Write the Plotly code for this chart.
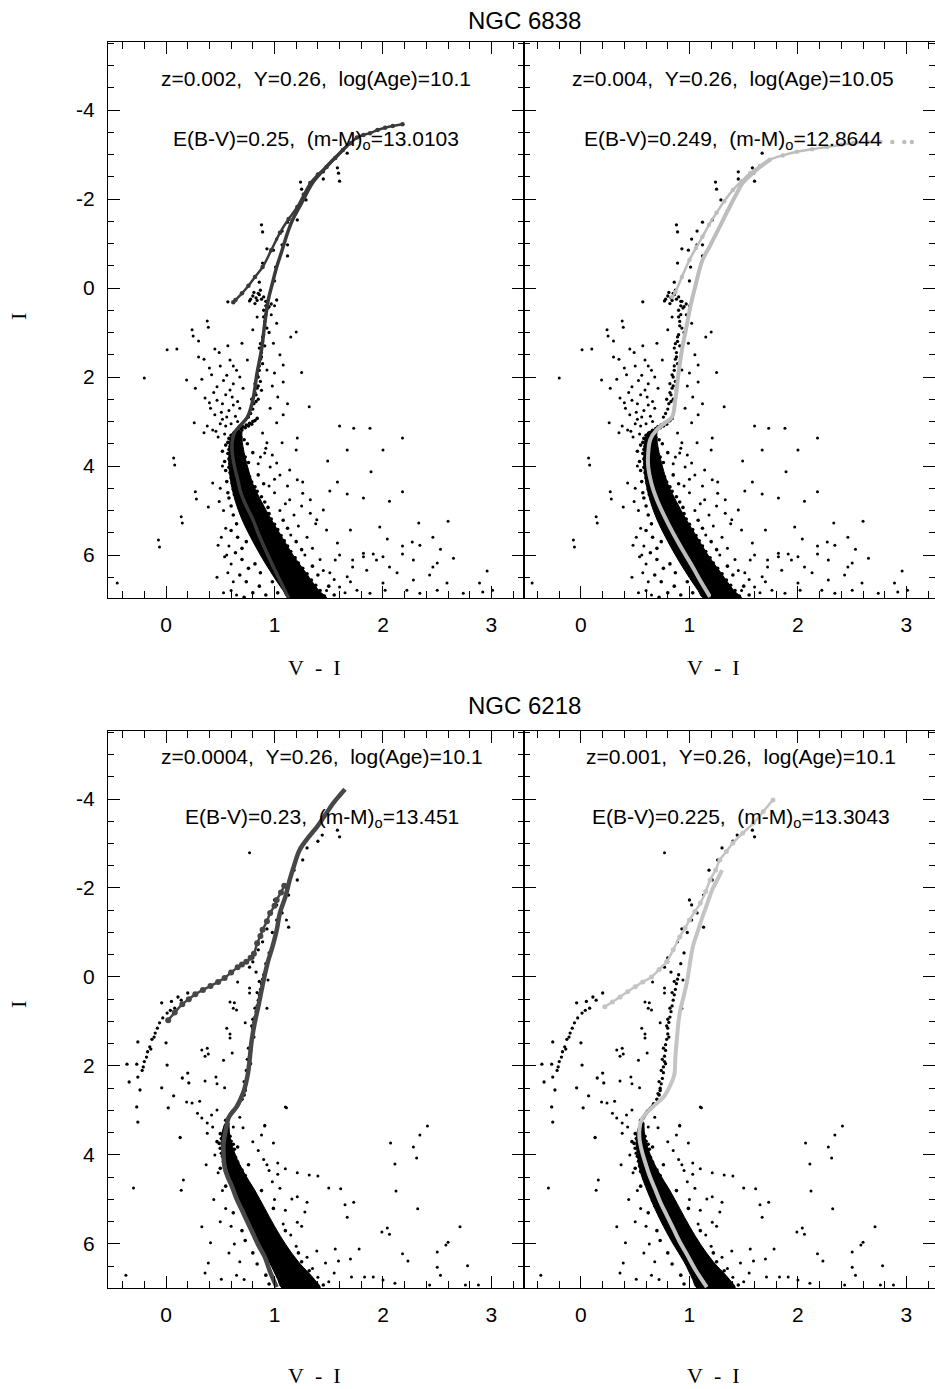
import plotly.graph_objects as go

# ---------------- DATA (x = V-I, y = I) ----------------
# NGC 6838 observed stars (shared by both upper panels)
ngc6838_band = """
0.84 2.93 0.80 3.00 0.77 3.04 0.74 3.08 0.71 3.12 0.69 3.16 0.66 3.20 0.64 3.24 0.62 3.28 0.79 3.06
0.73 3.14 0.67 3.22 0.82 2.98 0.70 3.19 0.76 3.10
0.60 3.31 0.63 3.34 0.66 3.30 0.58 3.38 0.61 3.42 0.65 3.40 0.69 3.36 0.57 3.47 0.60 3.51 0.64 3.49
0.68 3.45 0.72 3.41 0.59 3.56 0.62 3.58 0.66 3.54 0.55 3.53 0.75 3.50
0.58 3.63 0.61 3.66 0.64 3.62 0.67 3.68 0.70 3.64 0.57 3.72 0.60 3.75 0.63 3.71 0.66 3.78 0.69 3.74
0.73 3.80 0.58 3.84 0.61 3.88 0.64 3.83 0.67 3.91 0.71 3.86 0.59 3.95 0.62 3.98 0.65 3.94 0.68 3.99
0.76 3.92 0.54 3.90 0.80 3.70 0.52 3.67
0.58 4.03 0.61 4.06 0.64 4.02 0.67 4.09 0.70 4.05 0.74 4.12 0.59 4.15 0.62 4.18 0.65 4.14 0.68 4.21
0.72 4.17 0.77 4.24 0.60 4.27 0.63 4.30 0.66 4.26 0.69 4.33 0.73 4.29 0.79 4.36 0.61 4.39 0.64 4.42
0.67 4.38 0.71 4.45 0.75 4.41 0.82 4.47 0.56 4.35 0.85 4.20 0.55 4.10 0.90 4.40
0.62 4.52 0.65 4.55 0.68 4.51 0.71 4.58 0.75 4.54 0.79 4.61 0.84 4.57 0.63 4.64 0.67 4.67 0.70 4.63
0.74 4.70 0.78 4.66 0.83 4.73 0.88 4.69 0.65 4.76 0.69 4.79 0.72 4.75 0.76 4.82 0.81 4.78 0.86 4.85
0.91 4.81 0.67 4.88 0.71 4.91 0.75 4.87 0.79 4.94 0.84 4.90 0.89 4.97 0.94 4.93 0.58 4.72 0.60 4.90
0.57 4.60
0.70 5.02 0.74 5.05 0.78 5.01 0.82 5.08 0.86 5.04 0.90 5.11 0.95 5.07 0.72 5.14 0.76 5.17 0.80 5.13
0.84 5.20 0.88 5.16 0.92 5.23 0.97 5.19 0.74 5.26 0.79 5.29 0.83 5.25 0.87 5.32 0.91 5.28 0.95 5.35
1.00 5.31 0.77 5.38 0.82 5.41 0.86 5.37 0.90 5.44 0.94 5.40 0.98 5.47 1.03 5.43 0.62 5.10 0.65 5.30
0.60 5.45 1.08 5.22 1.12 5.40
0.80 5.51 0.85 5.54 0.89 5.50 0.93 5.57 0.97 5.53 1.01 5.60 1.06 5.56 0.83 5.63 0.88 5.66 0.92 5.62
0.96 5.69 1.00 5.65 1.04 5.72 1.09 5.68 0.86 5.75 0.91 5.78 0.95 5.74 0.99 5.81 1.03 5.77 1.07 5.84
1.12 5.80 0.89 5.87 0.94 5.90 0.98 5.86 1.02 5.93 1.06 5.89 1.10 5.96 1.15 5.92 0.66 5.60 0.70 5.85
0.64 5.95 0.74 5.70 1.20 5.70 1.25 5.88
0.93 6.01 0.98 6.04 1.02 6.00 1.06 6.07 1.10 6.03 1.14 6.10 1.19 6.06 0.96 6.13 1.01 6.16 1.05 6.12
1.09 6.19 1.13 6.15 1.17 6.22 1.22 6.18 1.00 6.25 1.05 6.28 1.09 6.24 1.13 6.31 1.17 6.27 1.21 6.34
1.26 6.30 1.04 6.37 1.09 6.40 1.13 6.36 1.17 6.43 1.21 6.39 1.25 6.46 1.30 6.42 0.70 6.10 0.76 6.30
0.68 6.45 0.82 6.20 0.87 6.40 1.35 6.25 1.40 6.45
1.08 6.51 1.13 6.54 1.17 6.50 1.21 6.57 1.25 6.53 1.29 6.60 1.34 6.56 1.12 6.63 1.17 6.66 1.21 6.62
1.25 6.69 1.29 6.65 1.33 6.72 1.38 6.68 1.16 6.75 1.21 6.78 1.25 6.74 1.29 6.81 1.33 6.77 1.37 6.84
1.42 6.80 1.20 6.87 1.25 6.90 1.29 6.86 1.33 6.93 1.37 6.89 1.41 6.96 1.46 6.92 0.74 6.60 0.80 6.85
0.72 6.95 0.86 6.70 0.92 6.90 0.98 6.60 1.50 6.70 1.55 6.90 1.03 6.85
"""
# dense core of the NGC 6838 main sequence (edges read at several magnitudes)
ngc6838_core_I = [3.22, 3.40, 3.70, 4.00, 4.40, 4.80, 5.20, 5.60, 6.00, 6.40, 6.80, 6.97]
ngc6838_core_left = [0.62, 0.59, 0.58, 0.58, 0.60, 0.64, 0.70, 0.78, 0.87, 0.97, 1.08, 1.13]
ngc6838_core_right = [0.70, 0.70, 0.72, 0.75, 0.80, 0.88, 0.97, 1.07, 1.17, 1.29, 1.41, 1.48]

ngc6838_giants = """
0.93 0.30 0.94 0.45 0.92 0.60 0.91 0.75 0.93 0.90 0.90 1.05 0.89 1.20 0.91 1.30 0.88 1.45 0.87 1.60
0.89 1.70 0.86 1.85 0.85 2.00 0.87 2.10 0.84 2.25 0.83 2.40 0.85 2.50 0.81 2.60 0.80 2.72 0.78 2.82
0.76 2.90 0.90 0.50 0.95 1.00 0.86 1.35 0.84 1.95 0.82 2.15 0.88 2.30 0.79 2.50
0.92 0.40 0.91 0.85 0.89 1.10 0.88 1.55 0.86 1.75 0.85 2.20 0.83 2.55 0.82 2.35 0.87 1.25 0.90 0.65
0.80 0.18 0.83 0.22 0.86 0.15 0.88 0.25 0.84 0.28 0.81 0.10 0.87 0.05 0.90 0.20 0.78 0.25 0.85 0.12
0.92 0.30 0.82 0.35 0.95 0.42 0.97 0.36
0.57 0.31 0.77 0.29 0.89 -1.26 0.93 -0.88 0.89 -0.56 0.99 -0.85 1.02 -1.10 1.00 -0.16 1.07 -1.28
1.12 -1.48 1.12 -0.97 1.21 -1.53 1.25 -2.22 1.29 -1.98 1.45 -2.61 1.45 -2.45 1.59 -2.58 1.60 -2.40
0.86 -0.13 1.01 -0.47 0.88 -1.42 1.24 -2.38 1.58 -2.70 1.07 -0.97 1.12 -0.72 1.02 0.27 1.67 -3.03
"""

ngc6838_field = """
-0.45 6.63 -0.07 5.66 -0.20 2.02 0.01 1.39 0.10 1.37 0.24 0.94 0.30 1.19 0.38 0.74 0.30 1.55 0.45 1.37
0.19 2.07 0.27 2.25 0.40 1.80 0.26 3.03 0.07 3.82 0.27 4.58 0.43 4.38 0.14 5.14 0.39 4.92 0.48 5.78
0.54 6.04 0.08 3.98 0.15 5.28 0.28 4.74 0.25 1.08 0.39 0.88 -0.06 5.82
1.32 2.67 1.20 0.99 1.60 3.10 1.73 3.15 1.88 3.15 2.18 3.37 1.21 3.37 1.07 3.48 1.20 3.64 1.67 3.64
2.00 3.64 1.49 3.89 1.89 4.13 1.58 4.36 1.51 4.56 2.18 4.58 1.67 4.63 2.06 4.79 1.82 4.72 2.60 5.24
2.33 5.28 2.46 5.60 1.97 5.37 1.70 5.44 2.04 5.64 2.18 5.80 2.28 6.11 2.50 6.18 2.00 6.04 1.82 5.96
1.72 6.11 1.58 5.73 1.48 5.44 1.45 4.99 1.33 4.76 1.26 4.61 1.21 4.31 1.14 4.09 1.26 4.36 1.33 5.06
1.39 5.21 1.14 4.76
2.96 6.36 2.89 6.63 2.65 6.07 2.53 5.87 2.34 5.78 2.27 5.71 2.46 6.27 2.59 6.63 2.43 6.45 2.28 6.56
2.18 5.98 2.06 6.27 2.13 6.40 1.91 5.98 1.94 6.11 1.85 6.34 2.00 6.63 2.02 6.79 1.82 6.04 1.72 6.27
1.67 6.49 1.60 6.72 1.76 6.79 1.56 6.11 1.51 6.40 2.74 6.86 2.92 6.83 3.01 6.79 2.22 6.79 2.34 6.86
2.50 6.79 1.88 6.86
0.84 0.65 1.02 0.79 0.99 1.24 1.08 1.73 0.93 1.84 1.00 1.91 1.08 2.11 1.03 2.45 0.96 2.70 1.08 2.85
1.02 3.03 0.75 1.62 0.68 2.00 0.59 1.62 0.56 1.96 0.59 2.29 0.47 2.52 0.51 2.79 0.62 2.63 0.56 2.90
0.41 2.70 0.36 2.47 0.47 2.22 0.70 1.24 0.80 0.94 0.43 3.19 0.48 3.35 0.89 3.26 0.93 3.48 0.87 3.80
0.91 3.71 0.96 4.02 1.02 3.93
0.35 1.60 0.42 1.95 0.50 1.75 0.55 2.40 0.62 2.15 0.66 2.55 0.52 2.60 0.45 2.85 0.58 2.75 0.64 2.88
0.50 3.05 0.38 3.10 0.55 3.10 0.60 3.05 0.44 2.35 0.33 2.05 0.53 2.08 0.65 1.85 0.71 2.25 0.68 2.70
0.49 1.45 0.57 1.30 0.62 1.75 0.52 2.95 0.40 2.58 0.61 2.45 0.66 3.00 0.46 3.22 0.35 3.25 0.54 3.28
1.00 0.40 1.05 1.50 0.98 2.20 1.12 2.60 1.15 1.10 0.97 0.60 1.25 1.90
0.92 3.60 0.85 3.95 0.98 3.75 1.05 4.20 0.95 4.45 1.00 4.60 1.10 4.85 1.05 5.00 1.18 5.10 1.22 5.35
1.15 5.55 1.30 5.60 1.35 5.85 1.28 6.00 1.42 6.10 1.45 6.35 1.38 5.30 1.25 4.90 1.60 6.00 1.55 6.55
1.65 6.85 1.48 6.80 1.70 6.60 1.12 4.45 1.00 4.30
0.52 4.00 0.50 4.50 0.53 5.00 0.55 5.40 0.58 5.80 0.60 6.20 0.62 6.60 0.65 6.90 0.57 6.40 0.53 6.85
0.49 4.80 0.51 5.60 0.56 6.00 0.60 6.80 0.47 6.50
"""

# NGC 6218 observed stars (shared by both lower panels)
ngc6218_band = """
0.70 2.75 0.67 2.85 0.64 2.95 0.61 3.03 0.59 3.10 0.57 3.18 0.56 3.26 0.55 3.34 0.54 3.42 0.66 2.90
0.62 3.00 0.58 3.14 0.72 2.65 0.73 2.55 0.57 3.30 0.53 3.50 0.55 3.22 0.60 3.07
0.50 3.52 0.53 3.55 0.56 3.51 0.59 3.58 0.51 3.63 0.54 3.66 0.57 3.62 0.60 3.69 0.49 3.74 0.52 3.77
0.55 3.73 0.58 3.80 0.62 3.76 0.50 3.85 0.53 3.88 0.56 3.84 0.59 3.91 0.63 3.87 0.51 3.96 0.54 3.99
0.57 3.95 0.47 3.70 0.66 3.82
0.52 4.03 0.55 4.06 0.58 4.02 0.61 4.09 0.64 4.05 0.53 4.14 0.56 4.17 0.59 4.13 0.62 4.20 0.66 4.16
0.54 4.25 0.57 4.28 0.60 4.24 0.63 4.31 0.67 4.27 0.70 4.34 0.55 4.37 0.58 4.40 0.61 4.36 0.65 4.43
0.69 4.39 0.73 4.46 0.50 4.30 0.76 4.22
0.58 4.52 0.61 4.55 0.64 4.51 0.67 4.58 0.71 4.54 0.75 4.61 0.60 4.64 0.63 4.67 0.66 4.63 0.70 4.70
0.74 4.66 0.78 4.73 0.62 4.76 0.65 4.79 0.69 4.75 0.73 4.82 0.77 4.78 0.81 4.85 0.64 4.88 0.68 4.91
0.72 4.87 0.76 4.94 0.80 4.90 0.84 4.97 0.55 4.70 0.88 4.80
0.66 5.02 0.70 5.05 0.74 5.01 0.78 5.08 0.82 5.04 0.86 5.11 0.68 5.14 0.72 5.17 0.76 5.13 0.80 5.20
0.84 5.16 0.89 5.23 0.71 5.26 0.75 5.29 0.79 5.25 0.83 5.32 0.87 5.28 0.92 5.35 0.74 5.38 0.78 5.41
0.82 5.37 0.86 5.44 0.90 5.40 0.95 5.47 0.62 5.30 0.99 5.20
0.76 5.51 0.80 5.54 0.84 5.50 0.88 5.57 0.92 5.53 0.96 5.60 0.79 5.63 0.83 5.66 0.87 5.62 0.91 5.69
0.95 5.65 0.99 5.72 0.82 5.75 0.86 5.78 0.90 5.74 0.94 5.81 0.98 5.77 1.02 5.84 0.85 5.87 0.89 5.90
0.93 5.86 0.97 5.93 1.01 5.89 1.06 5.96 0.70 5.70 1.10 5.70 0.73 5.92
0.88 6.01 0.92 6.04 0.96 6.00 1.00 6.07 1.04 6.03 1.08 6.10 0.91 6.13 0.95 6.16 0.99 6.12 1.03 6.19
1.07 6.15 1.11 6.22 0.94 6.25 0.98 6.28 1.02 6.24 1.06 6.31 1.10 6.27 1.14 6.34 0.97 6.37 1.01 6.40
1.05 6.36 1.09 6.43 1.13 6.39 1.18 6.46 0.80 6.20 1.22 6.20 0.84 6.45 1.25 6.40
1.00 6.51 1.04 6.54 1.08 6.50 1.12 6.57 1.16 6.53 1.20 6.60 1.03 6.63 1.07 6.66 1.11 6.62 1.15 6.69
1.19 6.65 1.23 6.72 1.06 6.75 1.10 6.78 1.14 6.74 1.18 6.81 1.22 6.77 1.27 6.84 1.09 6.87 1.13 6.90
1.17 6.86 1.21 6.93 1.25 6.89 1.30 6.96 1.35 6.80 1.40 6.95 0.92 6.70 0.95 6.90 1.32 6.60 1.45 6.92
"""
ngc6218_core_I = [3.30, 3.60, 4.00, 4.40, 4.80, 5.20, 5.60, 6.00, 6.40, 6.80, 6.99]
ngc6218_core_left = [0.54, 0.51, 0.52, 0.55, 0.61, 0.68, 0.76, 0.85, 0.95, 1.03, 1.07]
ngc6218_core_right = [0.58, 0.59, 0.64, 0.72, 0.82, 0.91, 1.00, 1.10, 1.22, 1.37, 1.42]

ngc6218_giants = """
0.90 -0.05 0.89 0.05 0.88 0.15 0.87 0.28 0.86 0.40 0.85 0.52 0.84 0.65 0.83 0.78 0.82 0.90 0.81 1.02
0.80 1.15 0.80 1.28 0.79 1.40 0.78 1.52 0.78 1.65 0.77 1.78 0.77 1.90 0.76 2.02 0.76 2.15 0.75 2.28
0.74 2.40 0.73 2.50 0.71 2.62 0.84 0.35 0.82 0.70 0.79 1.10 0.76 1.60 0.74 2.10 0.78 1.95 0.81 1.35
0.86 0.10 0.80 0.95 0.75 1.85 0.72 2.35
0.80 -0.43 0.77 -0.22 1.58 -3.30 1.44 -3.19 1.60 -3.15 1.26 -2.63 1.21 -2.18 1.13 -1.84 1.00 -1.73
1.02 -1.62 1.07 -1.44 1.02 -1.28 1.13 -1.12 0.93 -1.08 0.89 -0.79 0.85 -0.61 0.95 -0.54 0.80 -0.34
0.83 -0.11 1.30 -2.90 1.40 -3.05 1.18 -2.40 0.98 -1.00 0.92 -0.30
0.20 0.36 0.11 0.45 0.05 0.55 -0.04 0.58 0.01 0.81 -0.03 0.92 -0.06 1.03 -0.08 1.15 -0.10 1.26
-0.13 1.40 -0.15 1.57 -0.17 1.68 -0.18 1.80 -0.21 2.02 -0.26 2.25 -0.24 2.54 -0.27 2.92 -0.26 3.26
-0.36 1.96 -0.34 2.36 -0.27 1.96 -0.26 1.46 0.00 1.48 0.01 1.98 -0.04 2.49 0.07 2.67 0.02 2.94
0.15 2.27 0.21 2.38 0.20 2.16 0.08 0.70 0.14 0.52 -0.11 1.35 -0.20 1.90 -0.22 2.10 -0.14 1.62
0.04 0.75
"""

ngc6218_field = """
0.13 3.61 0.16 4.56 0.14 4.79 0.37 4.22 0.33 5.61 0.41 5.97 0.39 6.43 0.36 6.65 0.51 6.79 1.10 2.92
0.91 3.33 0.99 3.73 0.88 3.55 0.93 4.22 1.03 4.18 1.10 4.31 1.03 4.43 1.21 4.40 1.32 4.45 1.40 4.47
1.50 4.74 1.61 4.76 1.73 5.06 1.65 5.12 1.67 5.40 1.78 6.11 1.56 6.11 1.59 6.38 1.70 6.34 1.83 6.74
1.71 6.74 2.00 6.81 2.11 6.88 2.07 3.73 2.11 4.20 2.12 4.81 2.28 3.82 2.34 3.55 2.41 3.35 2.31 4.07
2.32 5.21 1.99 5.73 2.04 5.64 2.06 5.78 2.18 6.22 2.23 6.38 2.50 6.18 2.58 6.02 2.60 5.96 2.71 5.61
2.50 6.52 2.53 6.70 2.78 6.49 2.43 6.92 2.76 6.92 2.88 6.92 1.21 4.94 1.16 4.99 1.30 5.06 1.28 5.28
1.10 5.24 1.21 5.51 1.39 6.16 1.47 6.43 1.91 6.74 -0.30 4.74 -0.37 6.70
0.59 0.56 0.63 0.58 0.77 0.25 0.93 0.70 0.56 1.15 0.59 1.28 0.73 1.03 0.33 1.64 0.38 1.60 0.53 1.87
0.61 1.71 0.36 2.34 0.46 2.25 0.47 2.40 0.54 2.49 0.19 2.81 0.24 2.83 0.31 2.79 0.29 3.06 0.33 3.17
0.38 3.28 0.42 3.10 0.47 2.99 0.43 3.37 0.38 3.51 0.13 3.60 1.11 2.94 0.91 3.35 0.68 3.15 0.71 3.39
0.62 3.37 0.59 1.37 0.36 1.78 0.39 1.73 0.66 0.11 0.62 0.70 0.65 0.74 0.77 0.36 0.94 0.07 0.77 -2.79
1.11 -1.28
0.98 4.60 1.05 4.75 0.95 4.35 1.00 5.00 1.08 5.55 1.15 5.80 1.20 6.05 1.30 6.30 1.35 6.55 1.40 6.75
1.50 6.85 1.55 6.65 1.25 5.60 0.90 4.10 0.85 3.90 0.80 3.70
0.45 4.00 0.48 4.40 0.52 4.80 0.55 5.20 0.60 5.60 0.63 6.00 0.68 6.40 0.72 6.80 0.58 6.20 0.50 5.50
0.65 6.70 0.44 5.00
"""

# Isochrones: main sequence + red giant branch, and HB/AGB branch
iso1_ms_x = [1.13, 1.06, 0.99, 0.92, 0.85, 0.80, 0.74, 0.69, 0.66, 0.63, 0.61, 0.61, 0.63, 0.68, 0.75, 0.80,
             0.84, 0.88, 0.91, 0.94, 0.98, 1.02, 1.07, 1.12, 1.17, 1.23, 1.29, 1.35, 1.44, 1.54, 1.61, 1.67]
iso1_ms_y = [6.97, 6.62, 6.27, 5.90, 5.51, 5.20, 4.90, 4.60, 4.30, 4.00, 3.70, 3.45, 3.25, 3.10, 2.90, 2.52,
             1.90, 1.39, 0.80, 0.30, -0.10, -0.47, -0.85, -1.24, -1.55, -1.82, -2.10, -2.36, -2.62, -2.88, -3.05, -3.20]
iso1_agb_x = [0.62, 0.64, 0.70, 0.76, 0.82, 0.89, 0.97, 1.05, 1.13, 1.21, 1.27, 1.33, 1.40, 1.48, 1.56, 1.63, 1.70,
              1.76, 1.82, 1.88, 1.95, 2.02, 2.09, 2.18]
iso1_agb_y = [0.32, 0.27, 0.12, -0.05, -0.25, -0.47, -0.85, -1.24, -1.55, -1.82, -2.10, -2.36, -2.55, -2.72, -2.92,
              -3.10, -3.25, -3.38, -3.44, -3.48, -3.55, -3.60, -3.64, -3.68]

iso2_ms_x = [1.19, 1.11, 1.03, 0.94, 0.85, 0.77, 0.70, 0.65, 0.62, 0.62, 0.64, 0.70, 0.78, 0.84, 0.87,
             0.90, 0.93, 0.97, 1.01, 1.05, 1.12, 1.19, 1.25, 1.31, 1.37, 1.43, 1.49, 1.57, 1.65, 1.74]
iso2_ms_y = [6.94, 6.62, 6.27, 5.90, 5.51, 5.13, 4.76, 4.40, 4.02, 3.70, 3.40, 3.18, 3.02, 2.90, 2.50,
             1.90, 1.40, 0.90, 0.40, 0.00, -0.63, -0.95, -1.24, -1.53, -1.82, -2.10, -2.36, -2.55, -2.72, -2.88]
iso2_agb_x = [0.84, 0.87, 0.93, 1.00, 1.06, 1.12, 1.18, 1.25, 1.32, 1.40, 1.48, 1.56, 1.65, 1.74, 1.86,
              1.99, 2.13, 2.27, 2.40, 2.51, 2.64, 2.76]
iso2_agb_y = [0.20, 0.09, -0.25, -0.63, -0.90, -1.15, -1.42, -1.69, -1.95, -2.20, -2.40, -2.58, -2.74, -2.88,
              -2.98, -3.06, -3.12, -3.17, -3.22, -3.26, -3.28, -3.28]
iso2_tip_x = [2.87, 2.98, 3.05]
iso2_tip_y = [-3.28, -3.28, -3.28]

iso3_ms_x = [1.02, 0.96, 0.91, 0.85, 0.80, 0.75, 0.70, 0.65, 0.61, 0.57, 0.54, 0.53, 0.53, 0.55, 0.58, 0.65,
             0.71, 0.74, 0.76, 0.79, 0.82, 0.85, 0.90, 0.94, 0.98, 1.02, 1.05, 1.10, 1.14, 1.18, 1.23, 1.30,
             1.39, 1.47, 1.54, 1.60, 1.65]
iso3_ms_y = [6.97, 6.63, 6.29, 6.02, 5.76, 5.50, 5.24, 4.98, 4.72, 4.50, 4.27, 4.00, 3.73, 3.45, 3.15, 2.92,
             2.61, 2.35, 2.09, 1.42, 1.00, 0.67, 0.07, -0.35, -0.67, -1.05, -1.44, -1.80, -2.18, -2.50, -2.85,
             -3.10, -3.37, -3.65, -3.90, -4.08, -4.22]
iso3_agb_x = [0.02, 0.08, 0.15, 0.21, 0.27, 0.34, 0.41, 0.48, 0.54, 0.60, 0.66, 0.70, 0.74, 0.78, 0.81,
              0.84, 0.87, 0.89, 0.93, 0.96, 1.00, 1.02, 1.06, 1.09]
iso3_agb_y = [0.97, 0.80, 0.61, 0.50, 0.39, 0.29, 0.20, 0.11, 0.02, -0.10, -0.22, -0.28, -0.34, -0.43, -0.52,
              -0.76, -0.92, -1.06, -1.25, -1.44, -1.60, -1.73, -1.90, -2.05]

iso4_ms_x = [1.16, 1.06, 0.98, 0.91, 0.85, 0.79, 0.73, 0.68, 0.63, 0.59, 0.56, 0.54, 0.54, 0.56, 0.62, 0.68,
             0.76, 0.82, 0.86, 0.87, 0.88, 0.91, 0.95, 0.98, 1.03, 1.07, 1.11, 1.16, 1.21, 1.26, 1.30]
iso4_ms_y = [6.97, 6.60, 6.25, 5.95, 5.65, 5.35, 5.05, 4.75, 4.45, 4.15, 3.90, 3.65, 3.40, 3.20, 3.02, 2.88,
             2.70, 2.45, 2.20, 1.80, 1.50, 0.81, 0.40, 0.07, -0.67, -0.98, -1.28, -1.62, -1.96, -2.20, -2.40]
iso4_agb_x = [0.22, 0.29, 0.36, 0.43, 0.50, 0.57, 0.65, 0.72, 0.79, 0.85, 0.91, 0.96, 1.00, 1.05, 1.10,
              1.15, 1.19, 1.24, 1.28, 1.34, 1.40, 1.49, 1.59, 1.68, 1.77]
iso4_agb_y = [0.67, 0.56, 0.45, 0.33, 0.22, 0.11, 0.00, -0.17, -0.34, -0.61, -0.90, -1.10, -1.28, -1.47,
              -1.66, -1.92, -2.18, -2.40, -2.63, -2.82, -3.01, -3.23, -3.46, -3.72, -3.98]

titles = ["NGC 6838", "NGC 6218"]
param_lines = [
    ("z=0.002,\u00a0\u00a0Y=0.26,\u00a0\u00a0log(Age)=10.1", "E(B-V)=0.25,\u00a0\u00a0(m-M)<sub>o</sub>=13.0103"),
    ("z=0.004,\u00a0\u00a0Y=0.26,\u00a0\u00a0log(Age)=10.05", "E(B-V)=0.249,\u00a0\u00a0(m-M)<sub>o</sub>=12.8644"),
    ("z=0.0004,\u00a0\u00a0Y=0.26,\u00a0\u00a0log(Age)=10.1", "E(B-V)=0.23,\u00a0\u00a0(m-M)<sub>o</sub>=13.451"),
    ("z=0.001,\u00a0\u00a0Y=0.26,\u00a0\u00a0log(Age)=10.1", "E(B-V)=0.225,\u00a0\u00a0(m-M)<sub>o</sub>=13.3043"),
]
x_ticks = [0, 1, 2, 3]
x_ticktext = ["0", "1", "2", "3"]
y_ticks = [-4, -2, 0, 2, 4, 6]
y_ticktext = ["-4", "-2", "0", "2", "4", "6"]


def pairs(s):
    v = [float(t) for t in s.split()]
    return v[0::2], v[1::2]


# ---------------- FIGURE ----------------
W, H = 935, 1389
fig = go.Figure()

def px_x(p):
    return p / W

def px_y(p):
    return 1 - p / H

panels = [
    dict(xd=[108, 524], yd=[42, 598], xr=[-0.535, 3.30], yr=[6.966, -5.528]),
    dict(xd=[524, 935], yd=[42, 598], xr=[-0.525, 3.263], yr=[6.966, -5.528]),
    dict(xd=[108, 524], yd=[731, 1288], xr=[-0.535, 3.30], yr=[6.989, -5.528]),
    dict(xd=[524, 935], yd=[731, 1288], xr=[-0.525, 3.263], yr=[6.989, -5.528]),
]

star_sets = [
    (ngc6838_field, ngc6838_band, ngc6838_giants, ngc6838_core_I, ngc6838_core_left, ngc6838_core_right),
    (ngc6838_field, ngc6838_band, ngc6838_giants, ngc6838_core_I, ngc6838_core_left, ngc6838_core_right),
    (ngc6218_field, ngc6218_band, ngc6218_giants, ngc6218_core_I, ngc6218_core_left, ngc6218_core_right),
    (ngc6218_field, ngc6218_band, ngc6218_giants, ngc6218_core_I, ngc6218_core_left, ngc6218_core_right),
]
isos = [
    (iso1_ms_x, iso1_ms_y, iso1_agb_x, iso1_agb_y, None, None, "#3a3a3a", 3.5, 4.5),
    (iso2_ms_x, iso2_ms_y, iso2_agb_x, iso2_agb_y, iso2_tip_x, iso2_tip_y, "#bdbdbd", 4, 4.5),
    (iso3_ms_x, iso3_ms_y, iso3_agb_x, iso3_agb_y, None, None, "#474747", 4.5, 6),
    (iso4_ms_x, iso4_ms_y, iso4_agb_x, iso4_agb_y, None, None, "#c4c4c4", 4, 5),
]

tickfont = dict(family="Liberation Sans", size=21, color="black")

for i, p in enumerate(panels):
    k = "" if i == 0 else str(i + 1)
    xa, ya = "x" + k, "y" + k
    field, band, giants, cI, cL, cR = star_sets[i]
    # dense core of the main sequence as a filled region between its edges
    fig.add_trace(go.Scatter(x=cL + cR[::-1], y=cI + cI[::-1], mode="lines", fill="toself",
                             fillcolor="black", line=dict(color="black", width=1, shape="spline"),
                             xaxis=xa, yaxis=ya, hoverinfo="skip"))
    for s, size in ((field, 3), (giants, 3.3), (band, 3.6)):
        xs, ys = pairs(s)
        fig.add_trace(go.Scatter(x=xs, y=ys, mode="markers", xaxis=xa, yaxis=ya,
                                 marker=dict(size=size, color="black", line=dict(width=0)),
                                 hoverinfo="skip"))
    mx, my, ax_, ay_, tx, ty, col, lw, ms = isos[i]
    fig.add_trace(go.Scatter(x=mx, y=my, mode="lines", xaxis=xa, yaxis=ya,
                             line=dict(color=col, width=lw, shape="spline"), hoverinfo="skip"))
    fig.add_trace(go.Scatter(x=ax_, y=ay_, mode="lines+markers", xaxis=xa, yaxis=ya,
                             line=dict(color=col, width=2.5, shape="spline"), marker=dict(size=ms, color=col),
                             hoverinfo="skip"))
    if tx:
        fig.add_trace(go.Scatter(x=tx, y=ty, mode="markers", xaxis=xa, yaxis=ya,
                                 marker=dict(size=ms, color=col), hoverinfo="skip"))

    common = dict(showgrid=False, zeroline=False, showline=True, linecolor="black", linewidth=1.3,
                  mirror="allticks", ticks="inside", tickcolor="black", tickwidth=1.4, ticklen=12,
                  tickfont=tickfont, ticklabelstandoff=8)
    fig.update_layout(**{
        "xaxis" + k: dict(common, domain=[px_x(p["xd"][0]), px_x(p["xd"][1])], range=p["xr"],
                          tickmode="array", tickvals=x_ticks, ticktext=x_ticktext,
                          minor=dict(tickmode="linear", tick0=0, dtick=0.2, ticks="inside",
                                     ticklen=7, tickwidth=1.2, tickcolor="black"),
                          anchor=ya),
        "yaxis" + k: dict(common, domain=[px_y(p["yd"][1]), px_y(p["yd"][0])], range=p["yr"],
                          tickmode="array", tickvals=y_ticks, ticktext=y_ticktext,
                          showticklabels=(i % 2 == 0),
                          minor=dict(tickmode="linear", tick0=0, dtick=0.5, ticks="inside",
                                     ticklen=6, tickwidth=1.2, tickcolor="black"),
                          anchor=xa),
    })

ann = []
txtfont = dict(family="Liberation Sans", size=21, color="black")
centers = [(316, 78, 140), (733, 78, 140), (322, 756, 818), (741, 756, 818)]
for (cx, y1, y2), (l1, l2) in zip(centers, param_lines):
    ann.append(dict(x=px_x(cx), y=px_y(y1), text=l1, font=txtfont))
    ann.append(dict(x=px_x(cx), y=px_y(y2), text=l2, font=txtfont))
ann.append(dict(x=px_x(524), y=px_y(20), text=titles[0], font=dict(family="Liberation Sans", size=24, color="black")))
ann.append(dict(x=px_x(524), y=px_y(705), text=titles[1], font=dict(family="Liberation Sans", size=24, color="black")))
serif = dict(family="Liberation Serif", size=22, color="black")
for cx in (314, 713):
    ann.append(dict(x=px_x(cx), y=px_y(667), text="V\u00a0\u00a0-\u00a0\u00a0I", font=serif))
    ann.append(dict(x=px_x(cx), y=px_y(1375), text="V\u00a0\u00a0-\u00a0\u00a0I", font=serif))
for cy in (317, 1005):
    ann.append(dict(x=px_x(18), y=px_y(cy), text="I", font=serif, textangle=-90))
for a in ann:
    a.update(xref="paper", yref="paper", showarrow=False, xanchor="center", yanchor="middle")

fig.update_layout(width=W, height=H, margin=dict(l=0, r=0, t=0, b=0), showlegend=False,
                  paper_bgcolor="white", plot_bgcolor="white", annotations=ann)

fig.write_html("out.html", config={"displayModeBar": False},
               post_script="document.body.style.margin='0px';")
